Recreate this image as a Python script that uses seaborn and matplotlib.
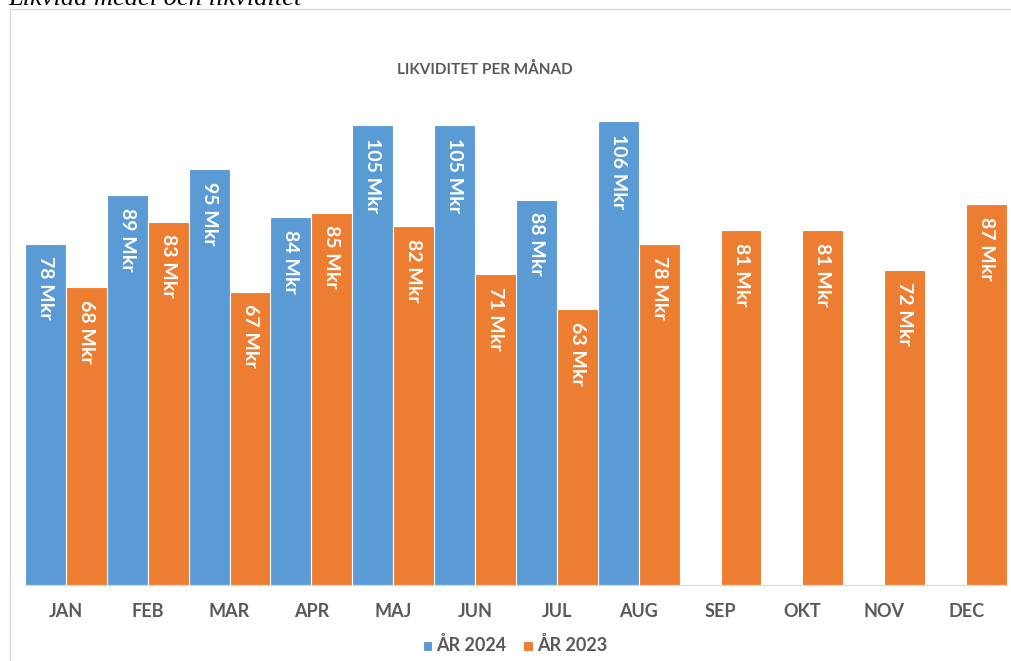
import numpy as np
import pandas as pd
import seaborn as sns
import matplotlib.pyplot as plt
from matplotlib.patches import Rectangle

# ──────────────────────────────
# Data
# ──────────────────────────────
months = ["JAN", "FEB", "MAR", "APR", "MAJ", "JUN",
          "JUL", "AUG", "SEP", "OKT", "NOV", "DEC"]
year_2024 = [78, 89, 95, 84, 105, 105, 88, 106, np.nan, np.nan, np.nan, np.nan]
year_2023 = [68, 83, 67, 85, 82, 71, 63, 78, 81, 81, 72, 87]
series_names = ["ÅR 2024", "ÅR 2023"]
colors = ["#5B9BD5", "#ED7D31"]
grey = "#595959"

df = pd.DataFrame({
    "Månad": months * 2,
    "Värde": year_2024 + year_2023,
    "År": [series_names[0]] * 12 + [series_names[1]] * 12,
})

# ──────────────────────────────
# Plot
# ──────────────────────────────
sns.set_style("white")
plt.rcParams["font.family"] = ["Lato", "DejaVu Sans"]

fig = plt.figure(figsize=(10.12, 6.61), dpi=100)
ax = fig.add_axes([25 / 1012, 76 / 661, 982 / 1012, 488 / 661])

sns.barplot(data=df, x="Månad", y="Värde", hue="År", order=months,
            hue_order=series_names, palette=colors, width=1.0,
            edgecolor="white", linewidth=0.8, saturation=1, ax=ax)

ax.set_xlim(-0.5, 11.5)
ax.set_ylim(0, 111.5)
ax.set_xlabel("")
ax.set_ylabel("")
ax.set_yticks([])
for s in ["top", "right", "left"]:
    ax.spines[s].set_visible(False)
ax.spines["bottom"].set_color("#D9D9D9")
ax.tick_params(axis="x", length=0, pad=13, labelsize=13, labelcolor=grey)
for lbl in ax.get_xticklabels():
    lbl.set_fontweight("bold")

# value labels inside bars
for cont in ax.containers:
    for patch in cont.patches:
        h = patch.get_height()
        if np.isnan(h) or h == 0:
            continue
        ax.annotate(f"{h:.0f} Mkr",
                    (patch.get_x() + patch.get_width() / 2, h),
                    xytext=(0, -9), textcoords="offset points",
                    rotation=270, ha="center", va="top",
                    color="white", fontsize=14, fontweight="bold")

leg = ax.legend(loc="center", bbox_to_anchor=(515 / 1012, 16 / 661),
                bbox_transform=fig.transFigure, ncol=2, frameon=False,
                handlelength=0.7, handleheight=0.7, handletextpad=0.3,
                columnspacing=1.2)
for t in leg.get_texts():
    t.set_color(grey)
    t.set_fontweight("bold")
    t.set_fontsize(13)

fig.text(485 / 1012, 1 - 69 / 661, "LIKVIDITET PER MÅNAD", ha="center",
         va="center", fontsize=11, fontweight="bold", color=grey)

# chart frame and cut-off heading above
fig.patches.append(Rectangle((10 / 1012, -0.1), 1.2, 1 - 9 / 661 + 0.1,
                             transform=fig.transFigure, fill=False,
                             edgecolor="#D9D9D9", linewidth=1))
fig.text(8 / 1012, 1 + 1 / 661, "Likvida medel och likviditet", ha="left",
         va="center", fontsize=19, style="italic", color="black",
         family=["Liberation Serif", "DejaVu Serif"])

fig.savefig("out.png", dpi=100)
